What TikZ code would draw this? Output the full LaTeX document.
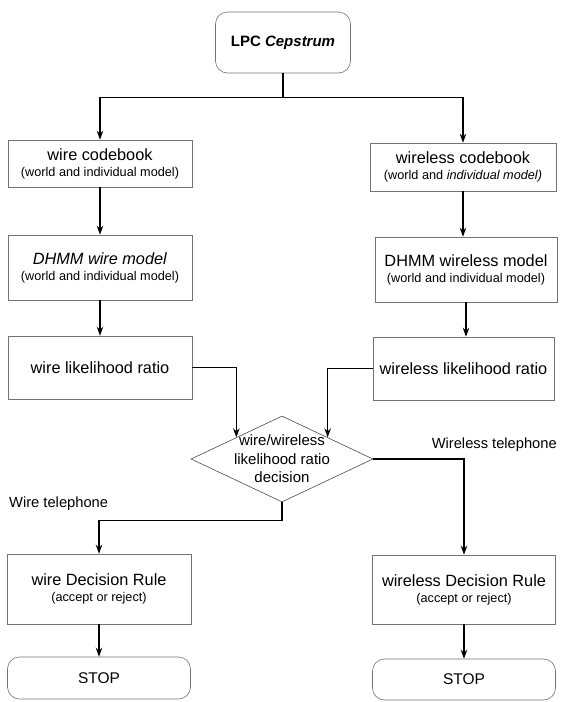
\documentclass[tikz,border=0pt]{standalone}
\usepackage{fontspec}
\setmainfont{Liberation Sans}
\usetikzlibrary{arrows.meta,shapes.geometric}

\newcommand{\smalltxt}[1]{{\fontsize{12.7}{15}\selectfont #1}}

\tikzset{
  procbox/.style={draw=black!55, line width=0.6pt, align=center, inner sep=2pt,
    font=\fontsize{16.3}{19}\selectfont},
  termbox/.style={procbox, rounded corners=12pt},
  decbox/.style={diamond, draw=black!70, line width=0.6pt, inner sep=0pt,
    minimum width=182pt, minimum height=86pt},
  lbl/.style={font=\fontsize{14.7}{17}\selectfont, inner sep=0pt},
  flowline/.style={line width=1.3pt, -{Stealth[length=9pt,width=6.5pt]}}
}

\begin{document}
\begin{tikzpicture}[x=1pt,y=-1pt]
\useasboundingbox (0,0) rectangle (560,702);

    \node[termbox, minimum width=135pt, minimum height=61pt, font=\fontsize{15}{18}\selectfont] (lpc) at (283,42.5) {\textbf{LPC \textit{Cepstrum}}};

    % wire side
    \node[procbox, minimum width=184pt, minimum height=47pt] (wcb) at (100,163.5) {wire codebook\\[-3pt]\smalltxt{(world and individual model)}};
    \node[procbox, minimum width=184pt, minimum height=65pt] (wdh) at (100,267.5) {\textit{DHMM wire model}\\[-3pt]\smalltxt{(world and individual model)}};
    \node[procbox, minimum width=184pt, minimum height=63pt] (wlr) at (100,367.5) {wire likelihood ratio};
    \node[procbox, minimum width=184pt, minimum height=70pt] (wdr) at (99,589) {wire Decision Rule\\[-3pt]\smalltxt{(accept or reject)}};
    \node[termbox, minimum width=183pt, minimum height=42pt, font=\fontsize{15.5}{18}\selectfont] (wstop) at (99,678) {STOP};

    % wireless side
    \node[procbox, minimum width=186pt, minimum height=48pt] (rcb) at (463,167) {wireless codebook\\[-3pt]\smalltxt{(world and \textit{individual model)}}};
    \node[procbox, minimum width=182pt, minimum height=65pt] (rdh) at (466,269.5) {DHMM wireless model\\[-3pt]\smalltxt{(world and individual model)}};
    \node[procbox, minimum width=181pt, minimum height=63pt] (rlr) at (463.5,368.5) {wireless likelihood ratio};
    \node[procbox, minimum width=183pt, minimum height=69pt] (rdr) at (464,589.5) {wireless Decision Rule\\[-3pt]\smalltxt{(accept or reject)}};
    \node[termbox, minimum width=183pt, minimum height=41pt, font=\fontsize{15.5}{18}\selectfont] (rstop) at (464,679.5) {STOP};

    % decision
    \node[decbox] (dec) at (282,459) {};
    \node[procbox, draw=none, font=\fontsize{15}{18.5}\selectfont] (dectxt) at (dec) {wire/wireless\\likelihood ratio\\decision};

    \node[lbl, anchor=west] (wtel) at (9,504) {Wire telephone};
    \node[lbl, anchor=east] (rtel) at (557,445) {Wireless telephone};

    % draw the arrows
    \draw[flowline] (lpc.south) -- ++(0,24) -| (wcb.north);
    \draw[flowline] (lpc.south) -- ++(0,24) -| (rcb.north);
    \draw[flowline] (wcb) -- (wdh);
    \draw[flowline] (wdh) -- (wlr);
    \draw[flowline] (rcb.south) -- (rcb.south |- rdh.north);
    \draw[flowline] (rdh.south) -- (rdh.south |- rlr.north);
    \draw[flowline] (wlr.east) -| (dec.north west);
    \draw[flowline] (rlr.west) -| (dec.north east);
    \draw[flowline] (dec.south) -- ++(0,18) -| (wdr.north);
    \draw[flowline] (dec.east) -| (rdr.north);
    \draw[flowline] (wdr) -- (wstop);
    \draw[flowline] (rdr) -- (rstop);

\end{tikzpicture}
\end{document}
